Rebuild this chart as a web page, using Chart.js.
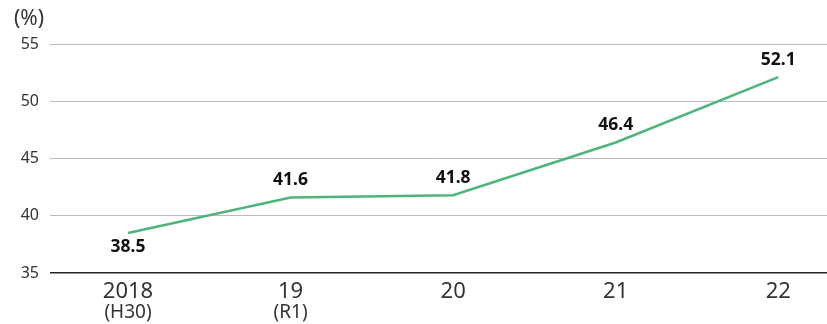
<!DOCTYPE html>
<html><head><meta charset="utf-8">
<script src="https://cdn.jsdelivr.net/npm/chart.js@4"></script>
<style>html,body{margin:0;padding:0;background:#fff}#wrap{width:827px;height:324px}</style>
</head><body><div id="wrap"><canvas id="c"></canvas></div>
<script>
const years = ["2018", "19", "20", "21", "22"];
const eraLabels = ["(H30)", "(R1)", "", "", ""];
const values = [38.5, 41.6, 41.8, 46.4, 52.1];
const yTicks = [35, 40, 45, 50, 55];
const labelBelow = [true, false, false, false, false];

const lineColor = "#4db57c";
const pts = values.map((v, i) => ({x: i, y: v}));

const overlay = {
  id: "overlay",
  afterDatasetsDraw(chart) {
    const ctx = chart.ctx, xs = chart.scales.x, ys = chart.scales.y;
    ctx.save();
    ctx.textAlign = "center";
    ctx.fillStyle = "#111";
    ctx.font = "bold 17.5px 'Noto Sans'";
    ctx.textBaseline = "middle";
    values.forEach((v, i) => {
      const px = xs.getPixelForValue(i), py = ys.getPixelForValue(v);
      ctx.fillText(v.toFixed(1), px, labelBelow[i] ? py + 14 : py - 17);
    });
    ctx.fillStyle = "#333";
    years.forEach((y, i) => {
      const px = xs.getPixelForValue(i);
      ctx.font = "22px 'Noto Sans'";
      ctx.fillText(y, px, 292);
      if (eraLabels[i]) {
        ctx.font = "19px 'Noto Sans'";
        ctx.fillText(eraLabels[i], px, 313);
      }
    });
    ctx.textAlign = "left";
    ctx.font = "21px 'Noto Sans'";
    ctx.fillText("(%)", 14, 19);
    ctx.restore();
  }
};

new Chart(document.getElementById("c"), {
  type: "line",
  data: { datasets: [{ data: pts, borderColor: lineColor, borderWidth: 2.5, pointRadius: 0, tension: 0, fill: false }] },
  options: {
    responsive: true, maintainAspectRatio: false, animation: false,
    layout: { padding: { top: 44, bottom: 51, left: 0, right: 0 } },
    plugins: { legend: { display: false }, tooltip: { enabled: false } },
    scales: {
      x: { type: "linear", display: false, min: -0.48, max: 4.3 },
      y: {
        min: 35, max: 55,
        afterBuildTicks: s => { s.ticks = yTicks.map(v => ({value: v})); },
        afterFit: s => { s.width = 50; },
        border: { display: false },
        grid: { drawTicks: false, color: c => c.tick && c.tick.value === 35 ? "#222" : "#bbb", lineWidth: c => c.tick && c.tick.value === 35 ? 1.5 : 1 },
        ticks: { padding: 11, color: "#333", font: { family: "'Noto Sans'", size: 16 } }
      }
    }
  },
  plugins: [overlay]
});
</script></body></html>
